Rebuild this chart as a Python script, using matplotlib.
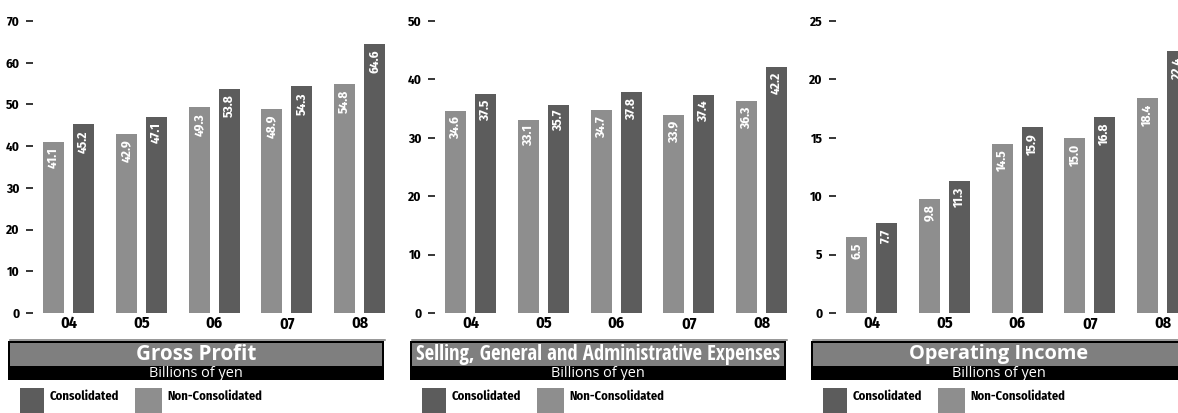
"""Three-panel bar chart: gross profit, SG&A expenses and operating income."""
import matplotlib
matplotlib.use("Agg")
import matplotlib.pyplot as plt
from matplotlib.patches import Rectangle

W, H = 1178, 413

YEARS = ["04", "05", "06", "07", "08"]

GP_NON = [41.1, 42.9, 49.3, 48.9, 54.8]
GP_CON = [45.2, 47.1, 53.8, 54.3, 64.6]

SGA_NON = [34.6, 33.1, 34.7, 33.9, 36.3]
SGA_CON = [37.5, 35.7, 37.8, 37.4, 42.2]

OI_NON = [6.5, 9.8, 14.5, 15.0, 18.4]
OI_CON = [7.7, 11.3, 15.9, 16.8, 22.4]

TITLES = ["Gross Profit", "Selling, General and Administrative Expenses", "Operating Income"]
UNIT = "Billions of yen"
LEGEND = ["Consolidated", "Non-Consolidated"]

DARK = "#5c5c5c"
LIGHT = "#8e8e8e"
BOX_GRAY = "#7f7f7f"
RULE = "#7a7a7a"
NARROW = ["Fira Sans Condensed", "DejaVu Sans"]
HUMAN = ["Open Sans", "DejaVu Sans"]
HUMAN_COND = ["Open Sans Condensed", "Open Sans", "DejaVu Sans"]

# (non-consolidated, consolidated, y max, y step, axes left px, title font, title width px)
PANELS = [
    (GP_NON, GP_CON, 70, 10, 33, HUMAN, 121),
    (SGA_NON, SGA_CON, 50, 10, 435, HUMAN_COND, 368),
    (OI_NON, OI_CON, 25, 5, 836, HUMAN, 181),
]

BAR_W = 0.288
HALF = 0.2055
PX_PER_UNIT = 72.8
AX_TOP, AX_BOT = 21, 313

fig = plt.figure(figsize=(W / 100, H / 100), dpi=100)
fig.patch.set_facecolor("white")

# pixel overlay for boxes, rules and legend keys
ov = fig.add_axes([0, 0, 1, 1], zorder=0)
ov.set_xlim(0, W)
ov.set_ylim(H, 0)
ov.axis("off")


def fit_text(t, target_px):
    fig.canvas.draw()
    w = t.get_window_extent().width
    t.set_fontsize(t.get_fontsize() * target_px / w)


for (non, con, ymax, step, left, tfont, twidth), title in zip(PANELS, TITLES):
    x_lo = -0.35 - 10 / PX_PER_UNIT
    x_hi = 4.35
    width_px = (x_hi - x_lo) * PX_PER_UNIT
    ax = fig.add_axes([left / W, (H - AX_BOT) / H, width_px / W, (AX_BOT - AX_TOP) / H],
                      zorder=2)
    ax.patch.set_alpha(0)
    xs = list(range(len(YEARS)))
    xn = [x - HALF for x in xs]
    xc = [x + HALF for x in xs]
    ax.bar(xn, non, width=BAR_W, color=LIGHT, linewidth=0)
    ax.bar(xc, con, width=BAR_W, color=DARK, linewidth=0)
    for xv, v in list(zip(xn, non)) + list(zip(xc, con)):
        ax.annotate(f"{v:.1f}", (xv, v), xytext=(0, -4), textcoords="offset points",
                    rotation=90, ha="center", va="top", color="white",
                    fontsize=9.5, fontweight="bold", family=NARROW)
    ax.set_xlim(x_lo, x_hi)
    ax.set_ylim(0, ymax)
    ax.set_yticks(range(0, ymax + 1, step))
    ax.set_xticks(xs)
    ax.set_xticklabels(YEARS, fontsize=11.5, fontweight="bold", family=NARROW)
    for lab in ax.get_yticklabels():
        lab.set_fontsize(9.5)
        lab.set_fontweight("bold")
        lab.set_family(NARROW)
    ax.tick_params(axis="y", length=5, width=1.1, pad=4.5, color="black")
    ax.tick_params(axis="x", length=0, pad=2)
    for s in ax.spines.values():
        s.set_visible(False)

    # rule under the year labels
    ov.plot([left - 23, min(left + width_px, W)], [340, 340], color=RULE, lw=1.1)

    # title band
    bx = left - 25
    bw = 376
    ov.add_patch(Rectangle((bx, 340.5), bw, 39.5, facecolor="black", edgecolor="none"))
    ov.add_patch(Rectangle((bx + 2, 342.5), bw - 4, 23.5, facecolor=BOX_GRAY, edgecolor="none"))
    cx = bx + bw / 2
    t = ov.text(cx, 354.5, title, ha="center", va="center", color="white",
                fontsize=14, fontweight="bold", family=tfont)
    fit_text(t, twidth)
    s = ov.text(cx, 373.5, UNIT, ha="center", va="center", color="white",
                fontsize=9, family=HUMAN)
    fit_text(s, 95)

    # legend keys
    kx = left - 13
    ov.add_patch(Rectangle((kx, 388), 24, 30, facecolor=DARK, edgecolor="none"))
    ov.text(kx + 30, 396, LEGEND[0], ha="left", va="center", color="black",
            fontsize=9, fontweight="bold", family=NARROW)
    ov.add_patch(Rectangle((kx + 115, 388), 27, 30, facecolor=LIGHT, edgecolor="none"))
    ov.text(kx + 147, 396, LEGEND[1], ha="left", va="center", color="black",
            fontsize=9, fontweight="bold", family=NARROW)

fig.savefig("out.png", dpi=100, facecolor="white")
